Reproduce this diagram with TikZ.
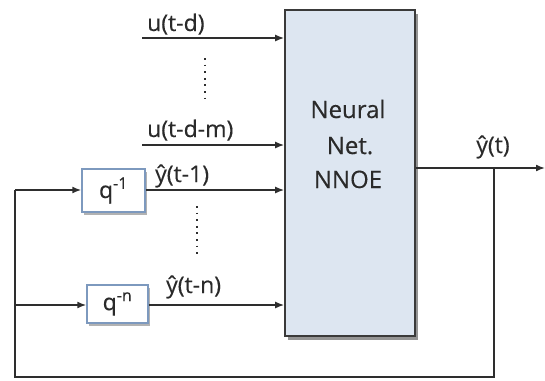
\documentclass[tikz,border=0pt]{standalone}
\usepackage{fontspec}
\setmainfont{Open Sans}
\newfontfamily\lblfont{Open Sans}[FakeBold=0.3]
\usetikzlibrary{arrows.meta,shadows}
\definecolor{wire}{HTML}{2E2E2E}
\definecolor{ink}{HTML}{2A2A2A}
\definecolor{nnfill}{HTML}{DDE6F1}
\definecolor{nnedge}{HTML}{3A3A3A}
\definecolor{dedge}{HTML}{7D99BE}
\tikzset{
  wireline/.style={draw=wire, line width=1.6pt},
  sig/.style={wireline, -{Latex[length=9pt,width=7pt]}},
  netbox/.style={draw=nnedge, line width=1.6pt, fill=nnfill, rectangle,
    minimum width=130pt, minimum height=326pt, inner sep=0pt,
    drop shadow={shadow xshift=3pt, shadow yshift=-4pt, opacity=0.6, fill=black!70}},
  delaybox/.style={draw=dedge, line width=1.4pt, fill=white, rectangle, inner sep=0pt,
    drop shadow={shadow xshift=2pt, shadow yshift=-3pt, opacity=0.5, fill=black!60}},
  lbl/.style={font=\lblfont\fontsize{23}{23}\selectfont, text=ink, inner sep=0pt},
  nnlbl/.style={font=\lblfont\fontsize{24}{24}\selectfont, text=ink, inner sep=0pt, anchor=base},
  vdots/.style={draw=wire, line width=1.6pt, dash pattern=on 1.8pt off 4.8pt}
}
\begin{document}
\begin{tikzpicture}[x=1pt,y=-1pt]
\useasboundingbox (0,0) rectangle (545,380);

% network block and delay elements
\node[netbox] (nn) at (350,173) {};
\node[nnlbl] (nn1) at (348,118) {Neural};
\node[nnlbl] (nn2) at (350,154) {Net.};
\node[nnlbl] (nn3) at (348,188) {NNOE};
\node[delaybox, minimum width=63pt, minimum height=43pt] (q1) at (113.5,190.5) {};
\node[lbl] (q1t) at (q1) {q\textsuperscript{-1}};
\node[delaybox, minimum width=61pt, minimum height=38pt] (qn) at (117.5,304) {};
\node[lbl] (qnt) at (qn) {q\textsuperscript{-n}};

% exogenous inputs
\coordinate (ud) at (142,38);
\coordinate (udm) at (142,145);
\draw[sig] (ud) -- (nn.west |- ud);
\draw[sig] (udm) -- (nn.west |- udm);
\node[lbl, anchor=base west] (udl) at (147,31) {u(t-d)};
\node[lbl, anchor=base west] (udml) at (147,137) {u(t-d-m)};
\coordinate (d1a) at (205,58);
\coordinate (d1b) at (205,101);
\draw[vdots] (d1a) -- (d1b);

% delayed outputs
\coordinate (y1) at (q1.east |- 0,190);
\coordinate (yn) at (qn.east |- 0,305);
\draw[sig] (y1) -- (nn.west |- y1);
\draw[sig] (yn) -- (nn.west |- yn);
\node[lbl, anchor=base west] (y1l) at (155,182) {ŷ(t-1)};
\node[lbl, anchor=base west] (ynl) at (166,293) {ŷ(t-n)};
\coordinate (d2a) at (197,206);
\coordinate (d2b) at (197,257);
\draw[vdots] (d2a) -- (d2b);

% output and feedback path
\coordinate (outend) at (545,168);
\coordinate (tap) at (494,168);
\coordinate (br) at (494,377);
\coordinate (bl) at (15,377);
\coordinate (lt) at (15,190);
\coordinate (lm) at (15,305);
\draw[sig] (nn.east |- outend) -- (outend);
\node[lbl, anchor=base] (yl) at (493,153) {ŷ(t)};
\draw[wireline] (tap) -- (br) -- (bl) -- (lt);
\draw[sig] (lt) -- (q1.west |- lt);
\draw[sig] (lm) -- (qn.west |- lm);
\end{tikzpicture}
\end{document}
